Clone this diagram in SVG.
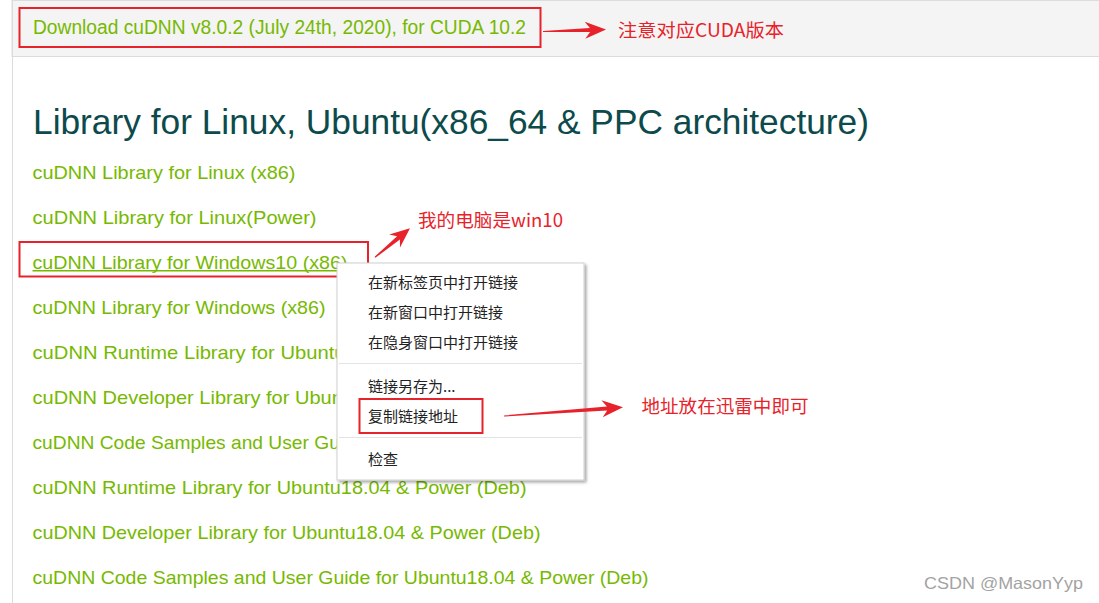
<svg xmlns="http://www.w3.org/2000/svg" width="1099" height="603" viewBox="0 0 1099 603">
<style>
.link{font-family:"Liberation Sans",Arial,sans-serif;font-size:18.5px;fill:#76b900}
.head{font-family:"Liberation Sans",Arial,sans-serif;font-size:35px;fill:#0c4a4c}
.menu{font-family:"Noto Sans CJK SC","Microsoft YaHei",sans-serif;font-size:15px;fill:#222}
.note{font-family:"Noto Sans CJK SC","Microsoft YaHei",sans-serif;font-size:18.5px;fill:#e8222a}
.redbox{fill:none;stroke:#e8222a;stroke-width:2}
.arrow{fill:#e8222a}
.sep{stroke:#e3e3e3;stroke-width:1}
.wm{font-family:"Liberation Sans",Arial,sans-serif;font-size:16.5px;fill:#a3a3a3}
</style>
<defs>
<filter id="shadow" x="-5%" y="-5%" width="115%" height="115%">
<feDropShadow dx="2" dy="2" stdDeviation="1.8" flood-color="#000" flood-opacity="0.35"/>
</filter>
</defs>
<rect x="0" y="0" width="1099" height="603" fill="#ffffff"/>
<g id="page">
<rect x="12" y="0.5" width="1090" height="56" fill="#f4f4f4" stroke="#dcdcdc" stroke-width="1"/>
<line x1="12.5" y1="0" x2="12.5" y2="603" stroke="#dcdcdc" stroke-width="1"/>
</g>
<g id="download-title">
<text class="link" x="33" y="33.5" style="font-size:19.5px" textLength="493" lengthAdjust="spacingAndGlyphs">Download cuDNN v8.0.2 (July 24th, 2020), for CUDA 10.2</text>
<rect class="redbox" x="19.5" y="8" width="521" height="39"/>
</g>
<g id="heading">
<text class="head" x="33" y="133.5" textLength="836" lengthAdjust="spacingAndGlyphs">Library for Linux, Ubuntu(x86_64 &amp; PPC architecture)</text>
</g>
<g id="links">
<text class="link" x="32.5" y="179" textLength="263" lengthAdjust="spacingAndGlyphs">cuDNN Library for Linux (x86)</text>
<text class="link" x="32.5" y="224" textLength="284" lengthAdjust="spacingAndGlyphs">cuDNN Library for Linux(Power)</text>
<text class="link" x="32.5" y="269" textLength="315" lengthAdjust="spacingAndGlyphs">cuDNN Library for Windows10 (x86)</text>
<line x1="32.5" y1="270.8" x2="347" y2="270.8" stroke="#76b900" stroke-width="1.6"/>
<text class="link" x="32.5" y="314" textLength="293" lengthAdjust="spacingAndGlyphs">cuDNN Library for Windows (x86)</text>
<text class="link" x="32.5" y="359" textLength="313" lengthAdjust="spacingAndGlyphs">cuDNN Runtime Library for Ubuntu</text>
<text class="link" x="32.5" y="404" textLength="327" lengthAdjust="spacingAndGlyphs">cuDNN Developer Library for Ubuntu</text>
<text class="link" x="32.5" y="449" textLength="333" lengthAdjust="spacingAndGlyphs">cuDNN Code Samples and User Guide</text>
<text class="link" x="32.5" y="494" textLength="494" lengthAdjust="spacingAndGlyphs">cuDNN Runtime Library for Ubuntu18.04 &amp; Power (Deb)</text>
<text class="link" x="32.5" y="539" textLength="508" lengthAdjust="spacingAndGlyphs">cuDNN Developer Library for Ubuntu18.04 &amp; Power (Deb)</text>
<text class="link" x="32.5" y="584" textLength="616" lengthAdjust="spacingAndGlyphs">cuDNN Code Samples and User Guide for Ubuntu18.04 &amp; Power (Deb)</text>
</g>
<g id="win10-box">
<rect class="redbox" x="19.5" y="242" width="348.5" height="34.5"/>
</g>
<g id="context-menu">
<rect x="337" y="263" width="247" height="217" fill="#ffffff" stroke="#cfcfcf" stroke-width="1" filter="url(#shadow)"/>
<text class="menu" x="368" y="287.5">在新标签页中打开链接</text>
<text class="menu" x="368" y="317.5">在新窗口中打开链接</text>
<text class="menu" x="368" y="347.5">在隐身窗口中打开链接</text>
<line class="sep" x1="339" y1="363.5" x2="582" y2="363.5"/>
<text class="menu" x="368" y="391.5">链接另存为...</text>
<text class="menu" x="368" y="421.5">复制链接地址</text>
<line class="sep" x1="339" y1="437.5" x2="582" y2="437.5"/>
<text class="menu" x="368" y="465">检查</text>
<rect class="redbox" x="359.5" y="399" width="123" height="34"/>
</g>
<g id="connectors">
<polygon class="arrow" points="543,30.9 589.9,27.9 584.7,21.7 606,29.5 585.3,38.7 590.1,32.1 543,32.1"/>
<polygon class="arrow" points="374.6,256.8 397.1,236.2 389.2,234.5 410,228.3 400,247.6 399.9,239.6 375.4,257.8"/>
<polygon class="arrow" points="504,415.4 606.9,406.5 601.4,400.3 623,407.3 602.7,417.3 607.2,410.5 504,416.6"/>
</g>
<g id="note-cuda">
<text class="note" x="618" y="36.5" textLength="166" lengthAdjust="spacingAndGlyphs">注意对应CUDA版本</text>
</g>
<g id="note-win10">
<text class="note" x="418" y="226.5" textLength="145" lengthAdjust="spacingAndGlyphs">我的电脑是win10</text>
</g>
<g id="note-thunder">
<text class="note" x="641.5" y="412.5" textLength="167" lengthAdjust="spacingAndGlyphs">地址放在迅雷中即可</text>
</g>
<g id="watermark">
<text class="wm" x="924" y="589" textLength="159" lengthAdjust="spacingAndGlyphs">CSDN @MasonYyp</text>
</g>
</svg>
